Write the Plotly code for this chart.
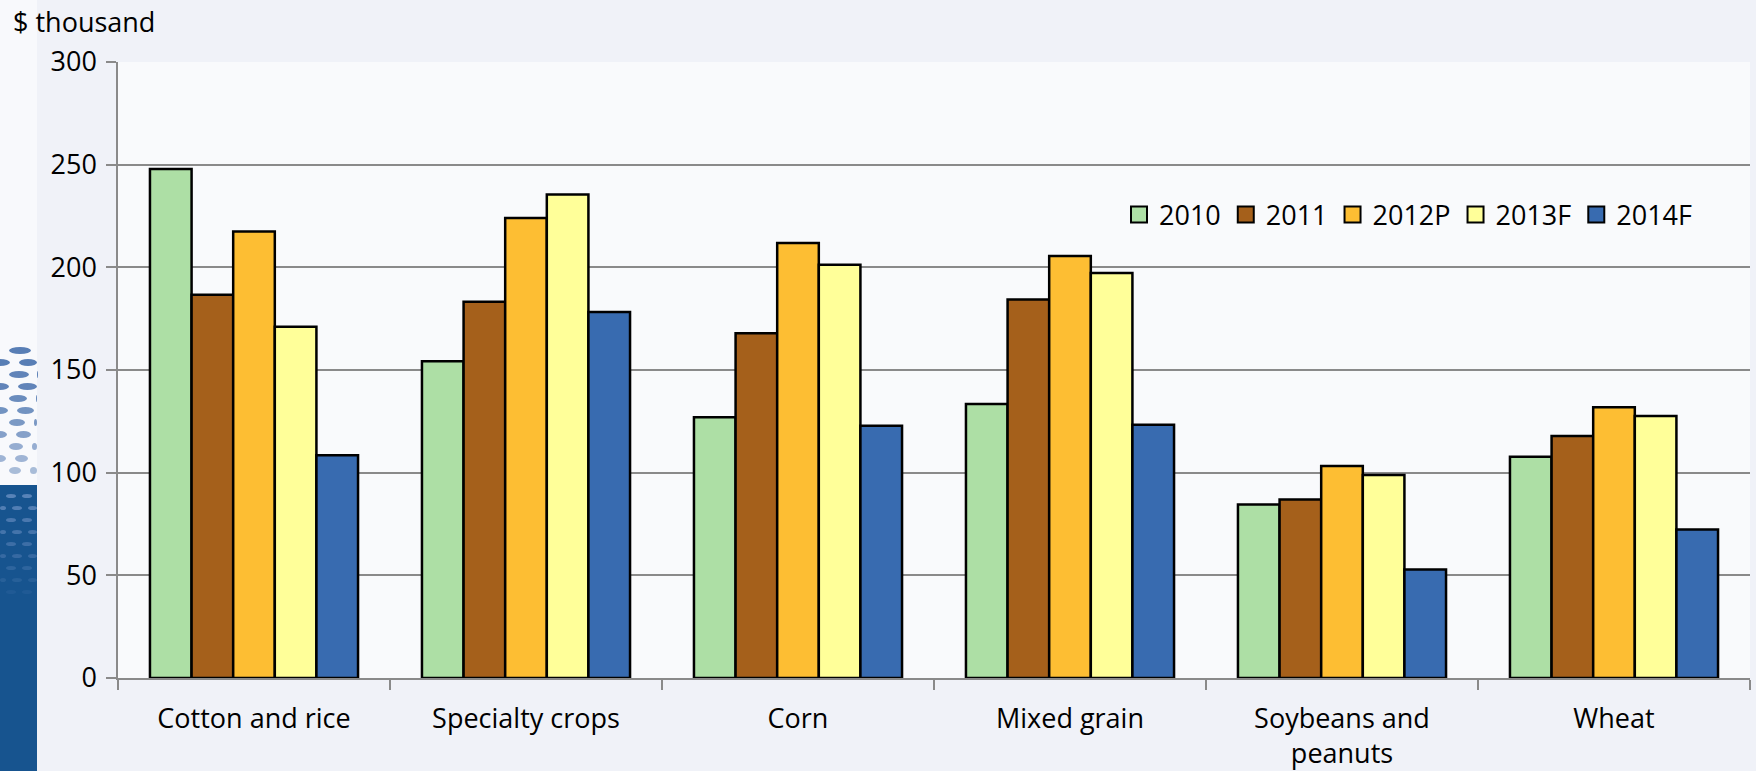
import plotly.graph_objects as go

# Farm-business categories and average income by year ($ thousand)
categories = ["Cotton and rice", "Specialty crops", "Corn", "Mixed grain",
              "Soybeans and<br>peanuts", "Wheat"]
years = ["2010", "2011", "2012P", "2013F", "2014F"]

v2010 = [247.9, 154.3, 127.0, 133.5, 84.5, 107.8]
v2011 = [186.7, 183.2, 167.9, 184.3, 86.9, 117.9]
v2012p = [217.5, 224.0, 211.9, 205.5, 103.3, 131.8]
v2013f = [171.1, 235.5, 201.2, 197.3, 98.9, 127.6]
v2014f = [108.5, 178.3, 122.8, 123.3, 52.8, 72.3]

series = [v2010, v2011, v2012p, v2013f, v2014f]
colors = ["#addfa5", "#a5601b", "#fdbe33", "#ffff99", "#386bb0"]

FONT = "'Open Sans', Lato, sans-serif"
FS = 27
W, H = 1756, 771
L, R, T, B = 118, 6, 62, 93


def px_x(x):
    return (x - L) / (W - L - R)


def px_y(y):
    return (H - B - y) / (H - T - B)


fig = go.Figure()
for name, vals, col in zip(years, series, colors):
    fig.add_trace(go.Bar(
        x=categories, y=vals, name=name, showlegend=False,
        marker=dict(color=col, line=dict(color="#000000", width=2.5)),
    ))
# legend keys: larger outlined squares
for name, col in zip(years, colors):
    fig.add_trace(go.Scatter(
        x=[categories[0]], y=[None], name=name, mode="markers",
        marker=dict(symbol="square", size=16, color=col,
                    line=dict(color="#000000", width=2)),
        hoverinfo="skip",
    ))

# slide backdrop: left strip with blue base and dotted swoosh
shapes = [
    dict(type="rect", xref="paper", yref="paper", x0=px_x(0), x1=px_x(37),
         y0=px_y(771), y1=px_y(0), fillcolor="#f8f9fc", line_width=0, layer="below"),
    dict(type="rect", xref="paper", yref="paper", x0=px_x(0), x1=px_x(37),
         y0=px_y(771), y1=px_y(485), fillcolor="#17548f", line_width=0, layer="below"),
]

rows = [(350, 22, 0.9), (362, 21, 0.9), (374, 20, 0.85), (386, 19, 0.85), (398, 18, 0.8),
        (410, 17, 0.75), (422, 16, 0.7), (434, 15, 0.65), (446, 14, 0.55), (458, 13, 0.5),
        (470, 12, 0.45)]
for i, (yy, w, op) in enumerate(rows):
    off = (w // 2) if i % 2 else 0
    xx = off - w
    while xx < 40:
        shapes.append(dict(type="circle", xref="paper", yref="paper",
                           x0=px_x(xx), x1=px_x(min(xx + w, 37)),
                           y0=px_y(yy + 4), y1=px_y(yy - 3),
                           fillcolor="#4670ad", opacity=op, line_width=0, layer="below"))
        xx += w + 9
# faint dots continuing onto the blue base
for i, yy in enumerate(range(496, 600, 12)):
    off = 6 if i % 2 else 0
    xx = off - 10
    while xx < 37:
        shapes.append(dict(type="circle", xref="paper", yref="paper",
                           x0=px_x(max(xx, 0)), x1=px_x(min(xx + 10, 37)),
                           y0=px_y(yy + 2), y1=px_y(yy - 2),
                           fillcolor="#6f93c6", opacity=max(0.75 - i * 0.08, 0.1),
                           line_width=0, layer="below"))
        xx += 16

fig.update_layout(
    width=W, height=H,
    margin=dict(l=L, r=R, t=T, b=B, pad=0, autoexpand=False),
    paper_bgcolor="#f0f2f8",
    plot_bgcolor="rgba(255,255,255,0.6)",
    barmode="group", bargap=0.235, bargroupgap=0,
    font=dict(family=FONT, size=FS, color="#000000"),
    showlegend=True,
    legend=dict(orientation="h", x=px_x(1119), xanchor="left", y=px_y(215), yanchor="middle",
                bgcolor="rgba(0,0,0,0)", font=dict(size=FS), itemwidth=30,
                traceorder="normal"),
    shapes=shapes,
    annotations=[dict(text="$ thousand", xref="paper", yref="paper",
                      x=px_x(11), y=px_y(21), xanchor="left", yanchor="middle",
                      showarrow=False, font=dict(size=FS))],
)

fig.update_yaxes(
    range=[0, 300], dtick=50, tick0=0, automargin=False,
    showgrid=True, gridcolor="#8a8a8a", gridwidth=1.5,
    showline=True, linecolor="#8a8a8a", linewidth=1.5,
    ticks="outside", ticklen=10, tickcolor="#8a8a8a", tickwidth=1.5,
    ticklabelstandoff=4, zeroline=False,
)
fig.update_xaxes(
    type="category", tickson="boundaries", automargin=False,
    showline=True, linecolor="#8a8a8a", linewidth=1.5,
    ticks="outside", ticklen=10, tickcolor="#8a8a8a", tickwidth=1.5,
    ticklabelstandoff=16, showgrid=False,
)

fig.write_html("out.html")
